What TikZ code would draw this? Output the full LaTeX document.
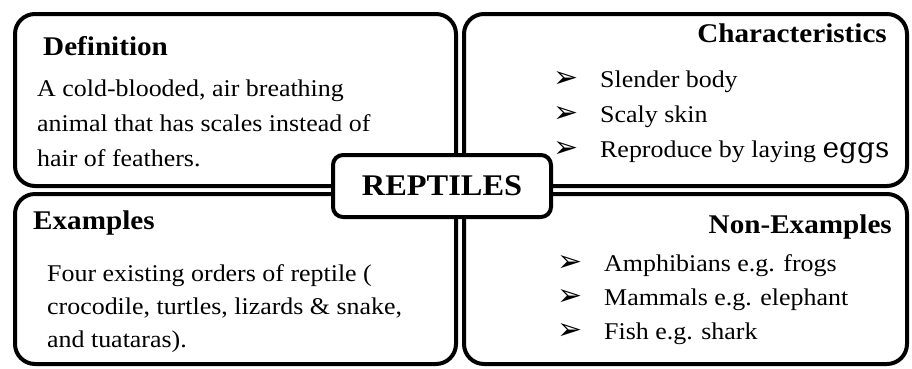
\documentclass[tikz,border=0pt]{standalone}
\usepackage{fontspec}
\setmainfont{Liberation Serif}[FakeStretch=1.08]
\newfontfamily\eggfont{DejaVu Serif}
\newfontfamily\dingfont{DejaVu Sans}
\usetikzlibrary{positioning,calc}

\newcommand{\bul}{\makebox[47pt][l]{\dingfont\fontsize{30}{30}\selectfont ➢}}

\begin{document}
\begin{tikzpicture}[x=1pt, y=-1pt,
    every node/.style={inner sep=0pt},
    panel/.style={draw, line width=4pt, rounded corners=20pt},
    heading/.style={font=\fontsize{27}{32}\selectfont\bfseries},
    bodytext/.style={align=left, font=\fontsize{24}{35}\selectfont}]
    \useasboundingbox (0,0) rectangle (912,368);

    % the four panels
    \node[panel, minimum width=441, minimum height=172] (def) at (235.5,100) {};
    \node[panel, minimum width=443, minimum height=172] (char) at (685.5,100) {};
    \node[panel, minimum width=441, minimum height=170] (ex) at (235.5,279) {};
    \node[panel, minimum width=443, minimum height=170] (non) at (685.5,279) {};

    % centre label
    \node[panel, fill=white, rounded corners=10pt, minimum width=218, minimum height=62,
        font=\fontsize{30}{30}\selectfont\bfseries] (title) at (442,186) {REPTILES};

    % definition (base = last line)
    \node[heading, anchor=base west] (defhead) at (43,55) {Definition};
    \node[bodytext, anchor=base west] (deftext) at (37,166)
        {A cold-blooded, air breathing\\ animal that has scales instead of\\ hair of feathers.};

    % characteristics
    \node[heading, anchor=base east] (charhead) at (887,42) {Characteristics};
    \node[bodytext, anchor=base west] (chartext) at (553,157)
        {\bul Slender body\\ \bul Scaly skin\\ \bul Reproduce by laying {\eggfont\fontsize{28}{35}\selectfont eggs}};

    % examples
    \node[heading, anchor=base west] (exhead) at (33,229) {Examples};
    \node[bodytext, font=\fontsize{24}{33}\selectfont, anchor=base west] (extext) at (47,347)
        {Four existing orders of reptile (\\ crocodile, turtles, lizards \& snake,\\ and tuataras).};

    % non-examples
    \node[heading, anchor=base east] (nonhead) at (892,233) {Non-Examples};
    \node[bodytext, font=\fontsize{24}{34}\selectfont, anchor=base west] (nontext) at (557,339)
        {\bul Amphibians e.g. frogs\\ \bul Mammals e.g. elephant\\ \bul Fish e.g. shark};
\end{tikzpicture}
\end{document}
